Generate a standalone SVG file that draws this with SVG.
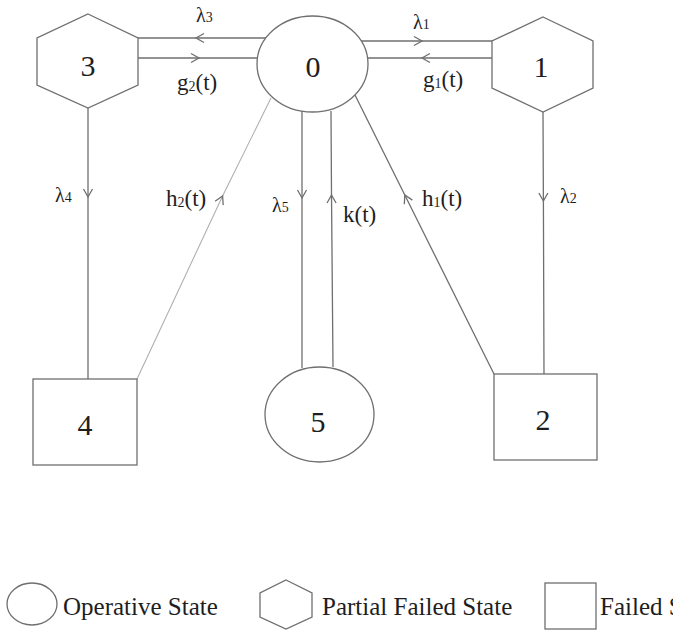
<svg xmlns="http://www.w3.org/2000/svg" width="673" height="630" viewBox="0 0 673 630">
  <defs>
    <style>
      .shape { fill: #ffffff; stroke: #6f6f6f; stroke-width: 1.3; }
      .edge { fill: none; stroke: #6f6f6f; stroke-width: 1.3; }
      .edge.light { stroke: #b0b0b0; stroke-width: 1.1; }
      .num { font-family: "Liberation Serif", "Times New Roman", serif; font-size: 30px; fill: #1e1e1e; text-anchor: middle; }
      .lbl { font-family: "Liberation Serif", "Times New Roman", serif; font-size: 23px; fill: #1e1e1e; }
      .lam { font-family: "Liberation Serif", "Times New Roman", serif; font-size: 20px; fill: #1e1e1e; }
      .sub { font-size: 14px; }
      .legend { font-family: "Liberation Serif", "Times New Roman", serif; font-size: 25px; fill: #1e1e1e; }
    </style>
    <!-- open chevron placed at the middle vertex of each connector -->
    <marker id="chev" markerUnits="userSpaceOnUse" markerWidth="12" markerHeight="12" refX="0" refY="0" viewBox="-10 -6 12 12" orient="auto" overflow="visible">
      <path d="M-8,-4.5 L0,0 L-8,4.5" fill="none" stroke="#6f6f6f" stroke-width="1.3"/>
    </marker>
  </defs>

  <rect width="673" height="630" fill="#ffffff"/>

  <!-- connectors -->
  <g id="connectors">
    <!-- 0 -> 3 (lambda3) and 3 -> 0 (g2) -->
    <path class="edge" d="M266,38 L196,38 L138,38" marker-mid="url(#chev)"/>
    <path class="edge" d="M138,58 L199,58 L258,58" marker-mid="url(#chev)"/>
    <!-- 0 -> 1 (lambda1) and 1 -> 0 (g1) -->
    <path class="edge" d="M361,41 L422,41 L492,41" marker-mid="url(#chev)"/>
    <path class="edge" d="M492,58 L422,58 L367,58" marker-mid="url(#chev)"/>
    <!-- 3 -> 4 (lambda4) -->
    <path class="edge" d="M88,108 L88,197 L88,379" marker-mid="url(#chev)"/>
    <!-- 1 -> 2 (lambda2) -->
    <path class="edge" d="M543,112 L543.4,201 L544,374" marker-mid="url(#chev)"/>
    <!-- 4 -> 0 (h2) -->
    <path class="edge light" d="M137,379 L222.6,196 L271,98" marker-mid="url(#chev)"/>
    <!-- 2 -> 0 (h1) -->
    <path class="edge" d="M494,374 L404.8,195 L355,95" marker-mid="url(#chev)"/>
    <!-- 0 -> 5 (lambda5) and 5 -> 0 (k) -->
    <path class="edge" d="M302,111 L302,198 L302,368" marker-mid="url(#chev)"/>
    <path class="edge" d="M333,367 L331.5,195 L331,111" marker-mid="url(#chev)"/>
  </g>

  <!-- connector labels -->
  <g id="edge-labels">
    <text class="lam" x="196" y="22">λ<tspan class="sub">3</tspan></text>
    <text class="lbl" x="177" y="90">g<tspan class="sub" dy="1">2</tspan><tspan dy="-1">(t)</tspan></text>
    <text class="lam" x="413" y="29">λ<tspan class="sub">1</tspan></text>
    <text class="lbl" x="423" y="87">g<tspan class="sub" dy="1">1</tspan><tspan dy="-1">(t)</tspan></text>
    <text class="lam" x="55" y="202">λ<tspan class="sub">4</tspan></text>
    <text class="lbl" x="166" y="206">h<tspan class="sub" dy="1">2</tspan><tspan dy="-1">(t)</tspan></text>
    <text class="lam" x="272" y="212">λ<tspan class="sub">5</tspan></text>
    <text class="lbl" x="343" y="222">k(t)</text>
    <text class="lbl" x="422" y="206">h<tspan class="sub" dy="1">1</tspan><tspan dy="-1">(t)</tspan></text>
    <text class="lam" x="560" y="203">λ<tspan class="sub">2</tspan></text>
  </g>

  <!-- states -->
  <g id="node-0">
    <ellipse class="shape" cx="312.5" cy="64" rx="55.5" ry="48"/>
    <text class="num" x="313" y="77">0</text>
  </g>
  <g id="node-1">
    <polygon class="shape" points="543,17 593,41 593,88 543,112 492,88 492,41"/>
    <text class="num" x="541" y="77">1</text>
  </g>
  <g id="node-2">
    <rect class="shape" x="494" y="374" width="103" height="86"/>
    <text class="num" x="543" y="430">2</text>
  </g>
  <g id="node-3">
    <polygon class="shape" points="88,14 138,38 138,85 88,108 37,85 37,38"/>
    <text class="num" x="88" y="76">3</text>
  </g>
  <g id="node-4">
    <rect class="shape" x="33" y="379" width="104" height="86"/>
    <text class="num" x="85" y="435">4</text>
  </g>
  <g id="node-5">
    <ellipse class="shape" cx="319.5" cy="414.5" rx="54.5" ry="47.5"/>
    <text class="num" x="318" y="432">5</text>
  </g>

  <!-- legend -->
  <g id="legend">
    <ellipse class="shape" cx="32" cy="604" rx="25" ry="21"/>
    <text class="legend" x="63" y="615">Operative State</text>
    <polygon class="shape" points="286,580 312,593 312,617 286,629 260,617 260,593"/>
    <text class="legend" x="322" y="615">Partial Failed State</text>
    <rect class="shape" x="545" y="583" width="51" height="46"/>
    <text class="legend" x="600" y="615">Failed State</text>
  </g>
</svg>
